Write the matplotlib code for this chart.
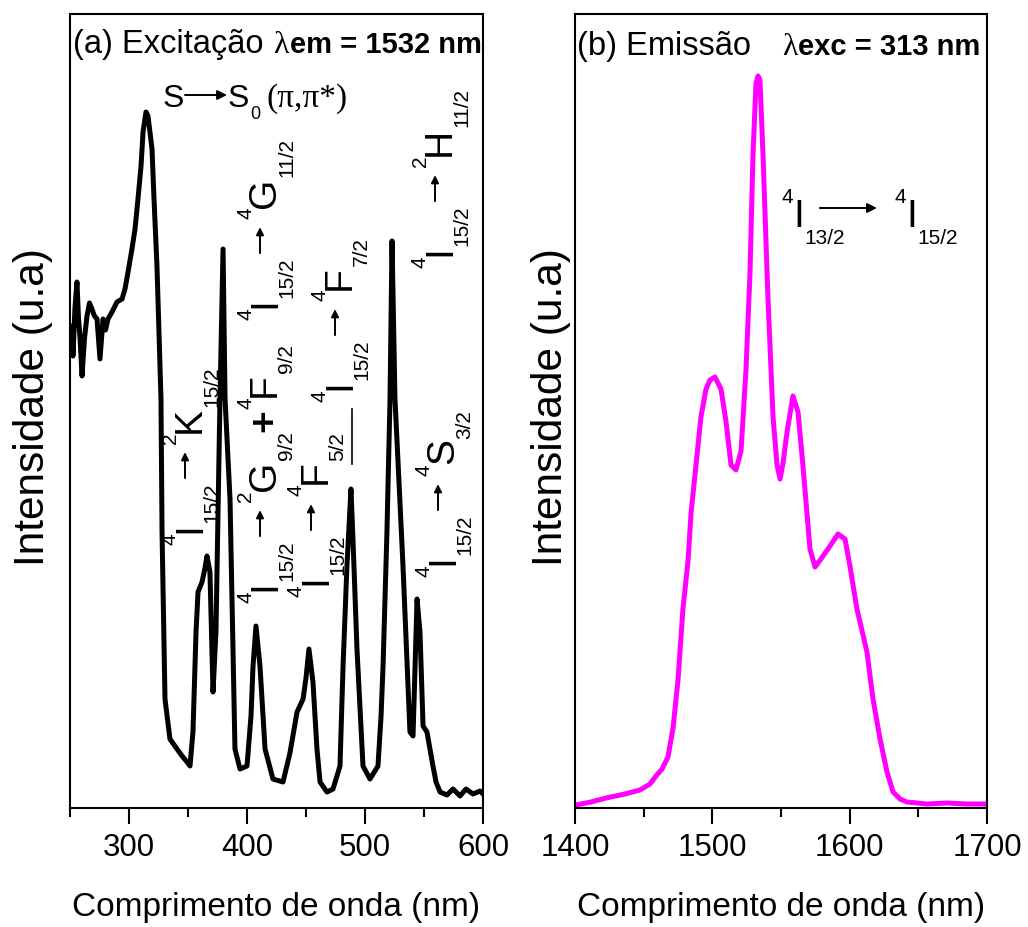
import matplotlib
matplotlib.use("Agg")
import matplotlib.pyplot as plt
from matplotlib.patches import FancyArrowPatch
from matplotlib.ticker import MultipleLocator

W, H = 1028, 928

# (a) excitation spectrum, monitored at 1532 nm (arbitrary units)
exc_nm = [250.0, 251.7, 252.5, 254.2, 255.9, 257.2, 258.5, 260.2, 262.3, 264.4,
          266.5, 268.6, 270.7, 272.9, 275.4, 278.0, 280.1, 282.2, 285.6, 289.8,
          294.1, 296.6, 299.2, 302.5, 305.1, 307.6, 310.2, 311.9, 314.4, 316.1,
          319.5, 321.2, 323.7, 325.4, 327.1, 328.0, 330.5, 334.7, 340.7, 345.0,
          349.2, 351.7, 354.2, 356.8, 358.5, 361.9, 364.4, 366.1, 368.6, 371.2,
          373.7, 377.1, 379.7, 381.4, 385.6, 389.8, 394.1, 400.0, 403.4, 405.1,
          407.6, 411.0, 415.3, 422.0, 430.5, 436.4, 442.4, 447.5, 450.0, 452.5,
          455.9, 459.3, 461.9, 467.8, 472.9, 478.8, 481.4, 484.7, 488.1, 489.8,
          493.2, 498.3, 504.2, 511.0, 513.6, 515.3, 518.6, 521.2, 522.9, 525.4,
          528.8, 532.2, 538.1, 540.7, 544.1, 546.6, 549.2, 552.5, 557.6, 560.2,
          563.6, 569.5, 574.6, 580.5, 585.6, 591.5, 597.5, 600.0]
exc_int = [469, 482, 452, 500, 526, 490, 470, 432, 470, 492,
           505, 499, 492, 489, 449, 489, 478, 489, 496, 506,
           509, 519, 536, 559, 579, 609, 642, 676, 696, 692,
           659, 609, 542, 476, 409, 276, 109, 69, 59, 52,
           46, 42, 76, 176, 216, 226, 240, 252, 236, 116,
           176, 409, 559, 409, 309, 59, 39, 42, 92, 142,
           182, 142, 59, 29, 26, 55, 96, 109, 130, 159,
           126, 59, 26, 16, 19, 42, 142, 242, 319, 269,
           159, 42, 29, 42, 92, 142, 276, 409, 567, 409,
           326, 242, 76, 72, 209, 176, 82, 76, 42, 26,
           16, 13, 19, 12, 19, 14, 17, 14]

# (b) emission spectrum, excited at 313 nm
emi_nm = [1400.7, 1411.6, 1422.6, 1436.4, 1447.3, 1454.6, 1459.0, 1463.4, 1467.7, 1471.4,
          1475.0, 1478.6, 1482.3, 1484.5, 1488.1, 1491.7, 1495.4, 1498.3, 1501.9, 1506.3,
          1510.0, 1513.6, 1517.2, 1520.9, 1524.5, 1527.4, 1529.6, 1531.8, 1533.3, 1534.7,
          1536.9, 1540.5, 1544.2, 1547.1, 1549.3, 1551.5, 1554.4, 1558.7, 1562.4, 1566.0,
          1571.1, 1574.8, 1577.0, 1580.6, 1585.7, 1591.5, 1596.6, 1600.2, 1605.3, 1612.6,
          1617.0, 1622.1, 1627.2, 1631.6, 1636.7, 1641.8, 1656.3, 1670.8, 1685.3, 1700.0]
emi_int = [3, 6, 10, 14, 18, 24, 32, 39, 51, 80,
           128, 199, 247, 295, 343, 391, 419, 428, 431, 419,
           386, 343, 338, 357, 438, 534, 653, 725, 732, 728,
           653, 510, 391, 343, 329, 345, 376, 412, 396, 342,
           259, 241, 245, 252, 262, 274, 269, 242, 199, 156,
           109, 69, 36, 16, 9, 6, 4, 5, 4, 4]

# transition labels of panel (a), all from 4I15/2:
# (upper terms, baseline x px, bottom y px)
exc_labels = [
    ([("2", "K", "15/2")], 200, 545),
    ([("2", "G", "9/2"), ("4", "F", "9/2")], 275, 603),
    ([("4", "G", "11/2")], 275, 320),
    ([("4", "F", "5/2")], 326, 597),
    ([("4", "F", "7/2")], 350, 402),
    ([("4", "S", "3/2")], 453, 577),
    ([("2", "H", "11/2")], 450, 268),
]

plt.rcParams["font.family"] = ["Liberation Sans", "DejaVu Sans"]

# piece styles: (fontsize, rise of baseline in px)
STY = {"sup": (15, 24), "main": (28, 0), "sub": (15, -17)}

fig = plt.figure(figsize=(W / 100, H / 100), dpi=100)
renderer = fig.canvas.get_renderer()


def fp(x, y):
    # figure pixel (from top-left) -> figure fraction
    return (x / W, 1 - y / H)


def arrow(xa, ya, xb, yb, scale=13):
    p = FancyArrowPatch(fp(xa, ya), fp(xb, yb), arrowstyle="-|>", color="black",
                        lw=1.4, mutation_scale=scale, shrinkA=0, shrinkB=0,
                        transform=fig.transFigure)
    fig.add_artist(p)


def term(sup, main, sub):
    return [("sup", sup), ("main", main), ("sub", sub)]


def lay_out(pieces, x0, y0, rot):
    # x0, y0: start of the main baseline, figure px from top-left
    pos = 0.0
    for kind, s in pieces:
        if kind == "arrow":
            before, length, after, rise = s
            a = pos + before
            b = a + length
            if rot == 0:
                arrow(x0 + a, y0 - rise, x0 + b, y0 - rise, scale=14)
            else:
                arrow(x0 - rise, y0 - a, x0 - rise, y0 - b, scale=11)
            pos = b + after
            continue
        size, rise = STY[kind]
        if rot == 0:
            X, Y = x0 + pos, y0 - rise
        else:
            X, Y = x0 - rise, y0 - pos
        t = fig.text(*fp(X, Y), s, fontsize=size, rotation=rot,
                     rotation_mode="anchor", ha="left", va="baseline",
                     fontweight="bold" if s == "+" else "normal")
        bb = t.get_window_extent(renderer)
        pos += bb.width if rot == 0 else bb.height


def chain(x, y, parts):
    # consecutive texts on one baseline
    for s, size, weight, family, gap in parts:
        x += gap
        t = fig.text(*fp(x, y), s, fontsize=size, fontweight=weight,
                     family=family, va="baseline")
        x = t.get_window_extent(renderer).x1


def style_axes(ax, xlim, ylim):
    ax.set_xlim(*xlim)
    ax.set_ylim(*ylim)
    ax.set_yticks([])
    ax.xaxis.set_major_locator(MultipleLocator(100))
    ax.xaxis.set_minor_locator(MultipleLocator(50))
    ax.tick_params(axis="x", which="major", direction="out", length=11.5,
                   width=1.5, labelsize=22.5, pad=6)
    ax.tick_params(axis="x", which="minor", direction="out", length=6.5, width=1.5)
    for sp in ax.spines.values():
        sp.set_linewidth(1.5)
    ax.set_xlabel("Comprimento de onda (nm)", fontsize=24)
    ax.xaxis.set_label_coords(0.5, -0.104)
    ax.set_ylabel("Intensidade (u.a)", fontsize=30.5)


ax1 = fig.add_axes([70 / W, 119 / H, 413 / W, 794 / H])
ax2 = fig.add_axes([575 / W, 119 / H, 412 / W, 794 / H])

ax1.plot(exc_nm, exc_int, color="black", lw=3.6, solid_joinstyle="round")
ax2.plot(emi_nm, emi_int, color="#ff00ff", lw=3.6, solid_joinstyle="round")

style_axes(ax1, (250, 600), (0, 794))
style_axes(ax2, (1400, 1700), (0, 794))
ax1.yaxis.set_label_coords(-0.040, 0.506)
ax2.yaxis.set_label_coords(-0.010, 0.506)

# rotated transition labels
for uppers, xb, yb in exc_labels:
    pieces = term("4", "I", "15/2") + [("arrow", (3, 26, 9, 15))]
    for i, u in enumerate(uppers):
        if i:
            pieces.append(("main", "+"))
        pieces += term(*u)
    lay_out(pieces, xb, yb, 90)
# small bar below the 4F7/2 label
ax1.plot([489.0, 489.0], [344, 399], color="black", lw=1.2)

# titles
chain(73, 53, [("(a) Excitação", 23.5, "normal", "Liberation Sans", 0),
               ("λ", 23, "normal", "Liberation Serif", 10),
               ("em = 1532 nm", 21, "bold", "Liberation Sans", 1)])
chain(577, 55, [("(b) Emissão", 23.5, "normal", "Liberation Sans", 0)])
chain(782, 55, [("λ", 23, "normal", "Liberation Serif", 0),
                ("exc = 313 nm", 21, "bold", "Liberation Sans", 1)])

# S -> S0 (pi, pi*)
fig.text(*fp(163, 107), "S", fontsize=23, va="baseline")
fig.text(*fp(228, 107), "S", fontsize=23, va="baseline")
fig.text(*fp(250, 119), "0", fontsize=13, va="baseline")
fig.text(*fp(266, 107), "(π,π*)", fontsize=24, va="baseline", family="Liberation Serif")
arrow(185, 96, 227, 96, scale=14)

# 4I13/2 -> 4I15/2
lay_out(term("4", "I", "13/2") + [("arrow", (-25, 57, 18, 18))] + term("4", "I", "15/2"),
        795 - 13, 227, 0)

fig.savefig("out.png", dpi=100)
